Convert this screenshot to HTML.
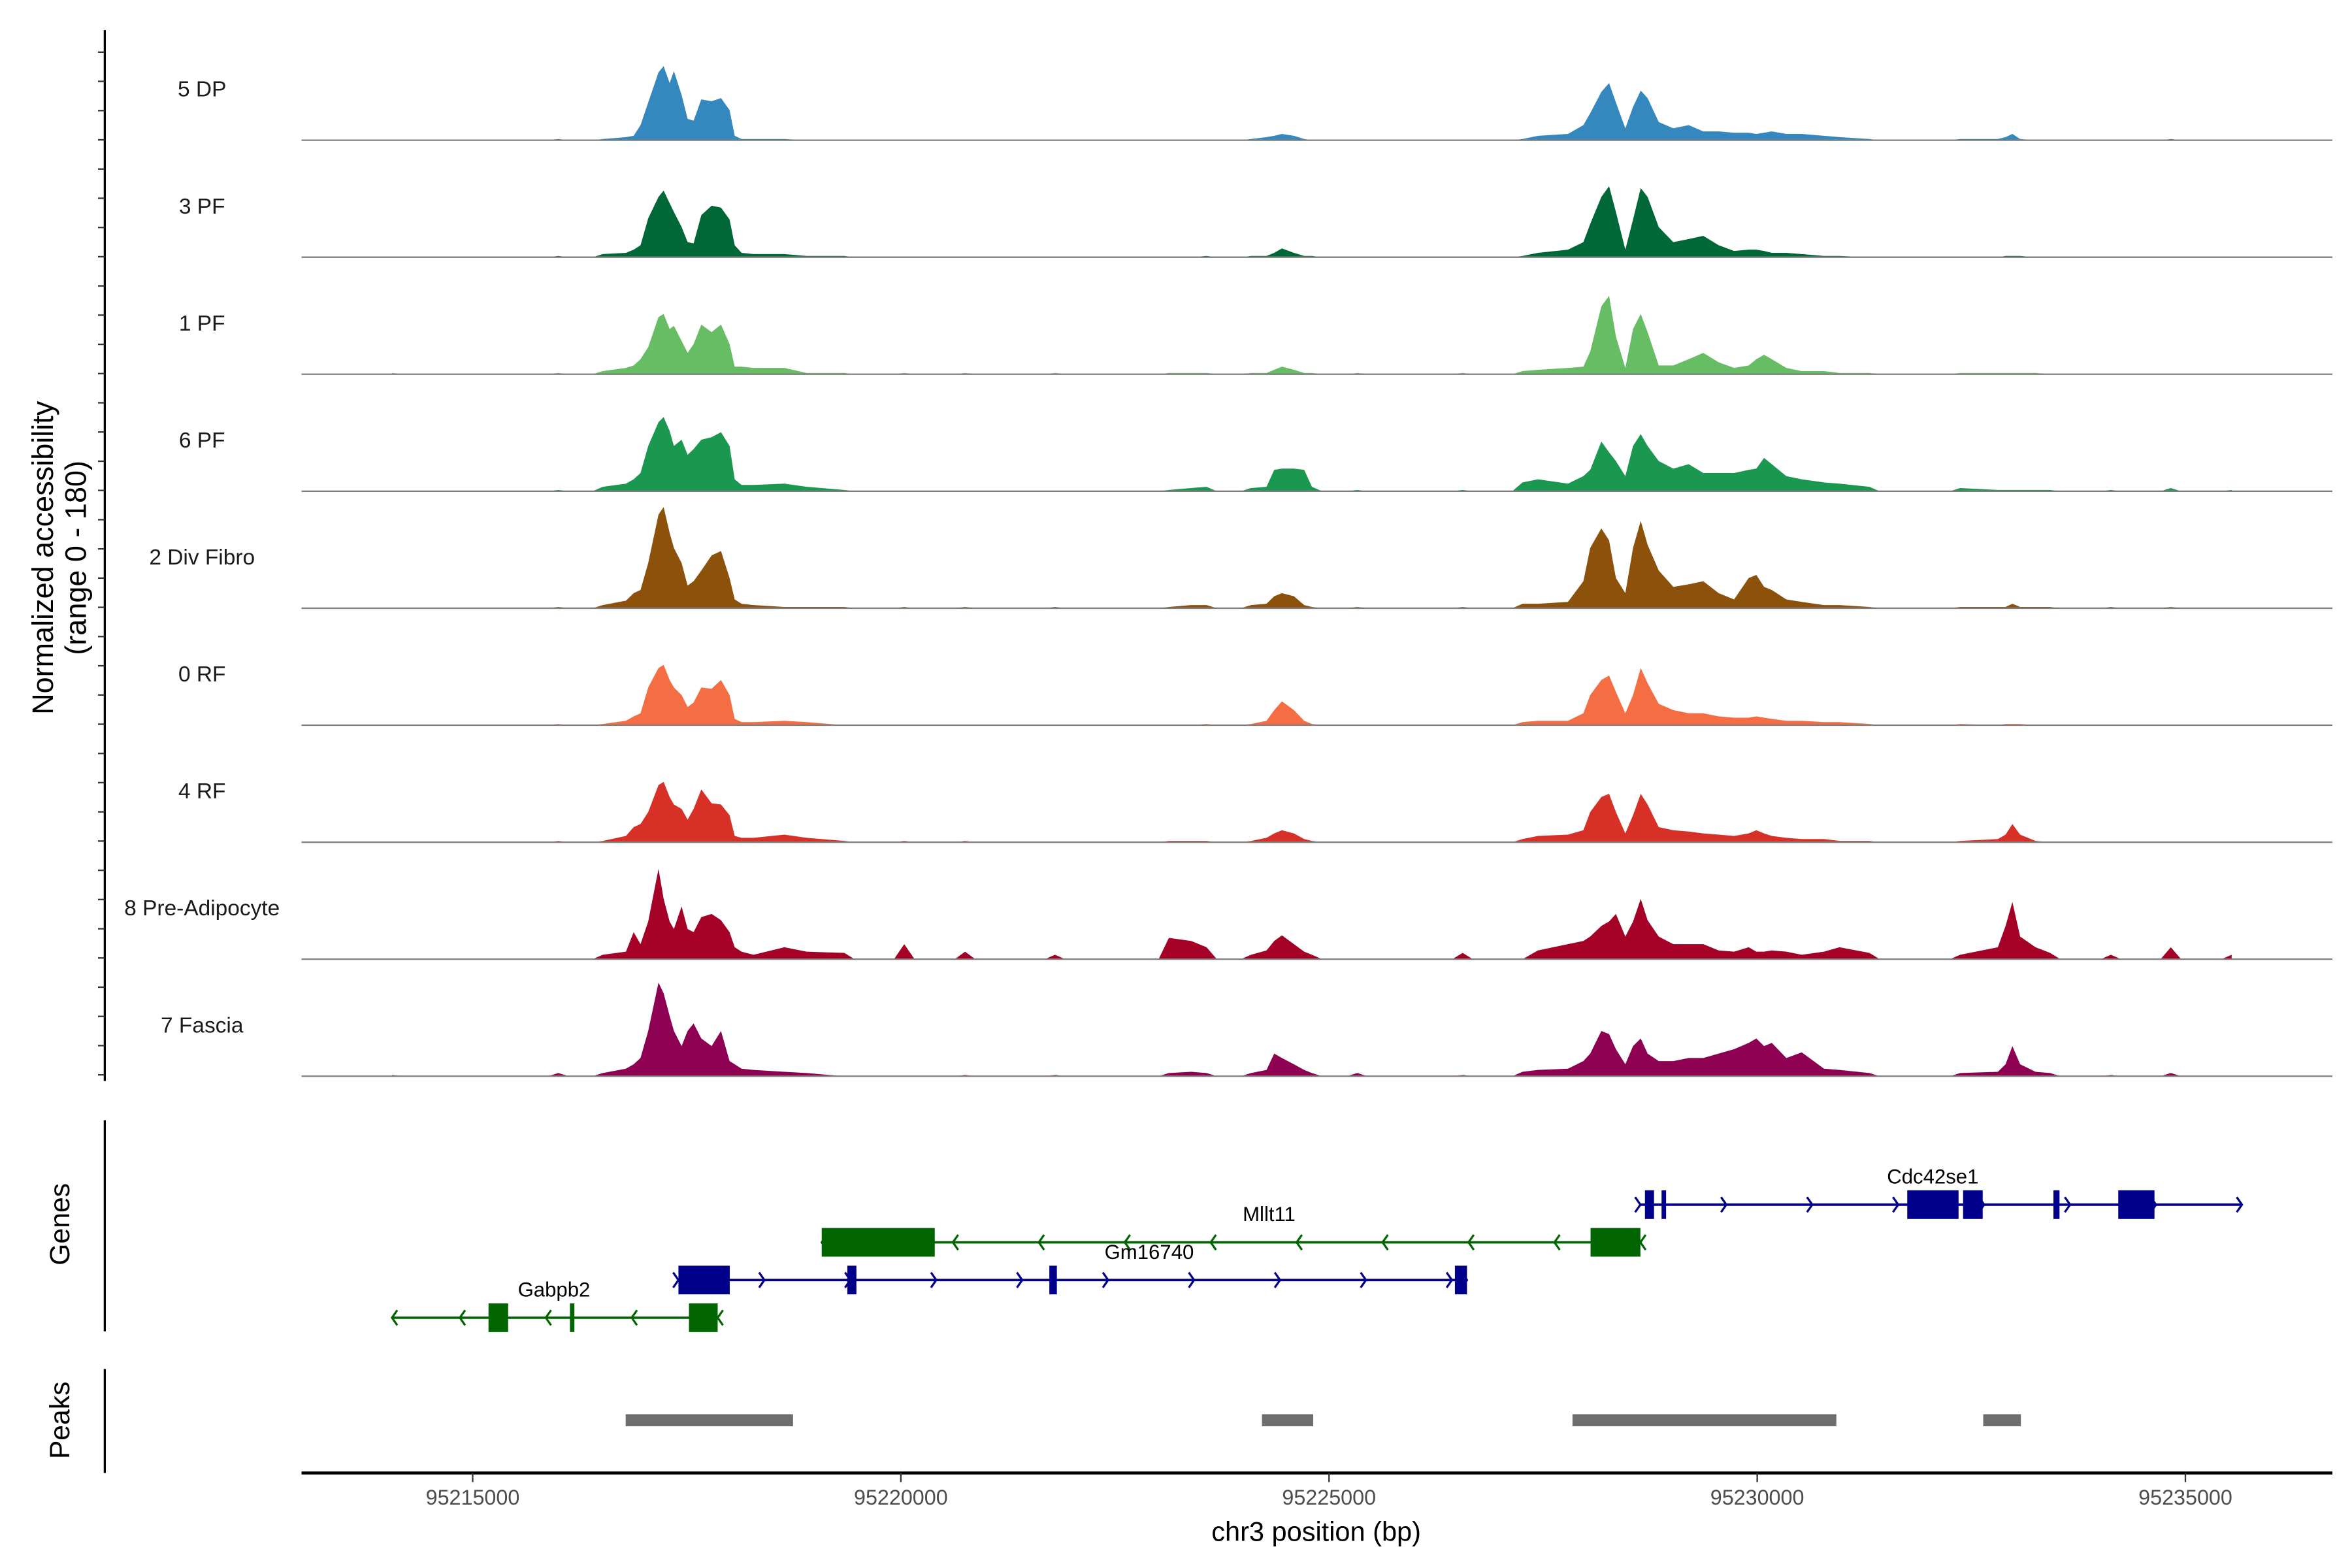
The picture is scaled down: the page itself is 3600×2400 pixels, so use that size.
<!DOCTYPE html>
<html><head><meta charset="utf-8"><title>Coverage plot</title>
<style>html,body{margin:0;padding:0;background:#fff;}svg{display:block;}text{font-family:"Liberation Sans",sans-serif;}</style>
</head><body>
<svg id="chart" xmlns="http://www.w3.org/2000/svg" width="3600" height="2400" viewBox="0 0 1560 1040">
<g id="tracks"></g>
<g id="genes"></g>
<g id="peaks"></g>
<g id="axes"></g>
</svg>
<script>
const NS="http://www.w3.org/2000/svg";
const positions=[95214060,95216000,95216520,95216790,95216880,95216960,95217050,95217170,95217230,95217300,95217350,95217440,95217510,95217580,95217670,95217790,95217900,95218000,95218060,95218140,95218280,95218640,95218900,95219340,95220040,95220750,95221800,95223130,95223390,95223570,95224090,95224270,95224360,95224450,95224590,95224710,95224800,95225330,95226560,95227260,95227440,95227790,95227970,95228050,95228180,95228270,95228350,95228460,95228550,95228640,95228720,95228850,95229020,95229200,95229370,95229550,95229730,95229900,95229990,95230080,95230170,95230340,95230520,95230780,95230960,95231310,95232370,95232810,95232900,95232980,95233070,95233250,95233420,95234130,95234830,95235540];
const trackNames=["5 DP","3 PF","1 PF","6 PF","2 Div Fibro","0 RF","4 RF","8 Pre-Adipocyte","7 Fascia"];
const trackColors=["#3588BE","#006837","#66BD63","#1A9850","#8C510A","#F46D43","#D73027","#A50026","#8E0152"];
const valsDP=[0,2,2,5,7,24,60,108,118,91,110,72,34,31,65,62,67,48,7,2,2,2,0,0,0,0,0,0,0,0,2,5,7,10,7,2,0,0,0,2,7,10,24,43,77,91,60,19,53,79,67,29,19,24,14,14,12,12,10,12,14,10,10,7,5,2,2,2,5,10,2,0,0,0,2,0];
const vals3PF=[0,2,5,7,12,19,62,96,106,86,72,48,24,22,67,82,79,60,19,7,5,5,2,2,0,0,0,0,0,2,2,2,7,14,7,2,2,0,0,2,7,12,24,53,96,113,72,12,60,110,96,48,24,29,34,19,10,12,12,10,7,7,5,2,2,0,0,0,2,2,2,0,0,0,0,0];
const vals1PF=[2,2,5,10,14,24,43,91,96,72,77,53,34,48,79,67,79,48,12,12,10,10,2,2,2,2,2,2,2,2,2,2,7,12,7,2,2,2,2,5,7,10,12,36,108,125,60,10,72,96,67,14,14,24,34,19,10,14,24,31,24,10,5,5,2,2,2,2,2,2,2,2,0,0,0,0];
const vals6PF=[0,2,7,12,19,29,72,110,118,96,72,82,58,67,82,86,94,72,19,10,10,12,7,2,0,0,0,2,5,7,5,7,34,36,36,34,7,2,2,14,19,12,24,34,79,62,48,24,72,91,72,48,36,43,29,29,29,34,36,53,43,24,19,14,12,7,5,2,2,2,2,2,2,2,5,2];
const vals2DF=[0,2,5,12,24,29,72,149,161,120,96,72,36,43,60,84,91,48,14,7,5,2,2,2,2,2,2,2,5,5,5,7,19,24,19,5,2,2,2,7,7,10,43,96,127,108,48,24,96,139,101,60,34,38,43,24,14,48,53,34,29,14,10,5,5,2,2,2,2,7,2,2,2,2,2,0];
const vals0RF=[0,2,2,7,14,19,60,91,96,72,60,48,29,36,60,58,72,48,10,5,5,7,5,0,0,0,0,0,0,2,2,7,24,38,24,7,2,0,0,5,7,7,19,48,72,79,53,19,48,91,67,34,24,19,19,14,12,12,14,12,10,7,7,5,5,2,2,0,2,2,2,0,0,0,0,0];
const vals4RF=[0,2,2,10,24,29,48,91,96,72,60,53,36,53,84,62,60,43,10,7,7,12,7,2,2,2,0,2,2,2,2,7,14,19,14,5,2,0,0,5,10,12,19,48,72,77,48,14,43,77,60,24,19,17,14,12,10,14,19,14,10,7,5,5,2,2,2,5,12,29,12,2,0,0,0,0];
const valsPA=[0,0,7,12,43,24,60,144,96,60,48,84,48,43,67,72,62,43,19,12,7,19,12,10,24,12,7,34,29,19,7,14,29,38,24,12,7,0,10,0,14,24,29,36,53,60,72,36,60,96,62,36,24,24,24,14,12,19,12,12,14,12,7,12,19,10,7,19,53,91,36,19,10,7,19,7];
const valsFas=[2,5,5,12,19,29,72,149,132,96,72,48,72,84,60,48,72,24,19,12,10,7,5,0,0,2,2,5,7,5,5,10,36,29,19,10,5,5,2,7,10,12,24,36,72,67,43,19,48,60,36,24,24,29,29,36,43,53,60,48,53,29,38,12,10,5,5,7,19,48,19,7,5,2,5,0];
const trackValues=[valsDP,vals3PF,vals1PF,vals6PF,vals2DF,vals0RF,vals4RF,valsPA,valsFas];
const xTicks=[95215000,95220000,95225000,95230000,95235000];
const geneNames=["Cdc42se1","Mllt11","Gm16740","Gabpb2"];
const geneStrand=[1,-1,1,-1];
const geneStart=[95228636,95219076,95217403,95214058];
const geneEnd=[95235660,95228636,95226611,95217861];
const geneExons=[[[95228689,95228795],[95228883,95228936],[95231752,95232351],[95232404,95232633],[95233459,95233530],[95234216,95234639]],[[95219076,95220396],[95228054,95228636]],[[95217403,95218002],[95219375,95219481],[95221734,95221822],[95226470,95226611]],[[95215185,95215414],[95216136,95216188],[95217526,95217861]]];
const peakStart=[95216787,95224217,95227843,95232639];
const peakEnd=[95218741,95224815,95230924,95233079];

const X0=200,X1=1547;
function xs(bp){return 313.5+(bp-95215000)*284/5000;}
const YMAX=180,TH=75;
function ys(v,base){return base-v/YMAX*TH;}
function mk(tag,attrs,parent,txt){const e=document.createElementNS(NS,tag);for(const k in attrs)e.setAttribute(k,attrs[k]);if(txt!==undefined)e.textContent=txt;parent.appendChild(e);return e;}

const tracks=document.getElementById('tracks');
const GAP=450,EDGE=120;
trackNames.forEach((nm,i)=>{
  const base=93+i*77.6;
  const g=mk('g',{},tracks);
  
  
  const vals=trackValues[i];
  let d='M'+xs(positions[0]).toFixed(2)+','+base;
  positions.forEach((p,j)=>{
    if(j>0&&p-positions[j-1]>GAP){
      d+=' L'+xs(positions[j-1]+EDGE).toFixed(2)+','+base+' L'+xs(p-EDGE).toFixed(2)+','+base;
    }
    d+=' L'+xs(p).toFixed(2)+','+ys(vals[j],base).toFixed(2);
  });
  d+=' L'+xs(positions[positions.length-1]).toFixed(2)+','+base+' Z';
  const a=mk('path',{d:d,fill:trackColors[i],stroke:'none'},g);
  
  
  const bl=mk('line',{x1:X0,x2:X1,y1:base,y2:base,stroke:'#7f7f7f','stroke-width':1},g);
  
  
  const t=mk('text',{x:134,y:base-29,'text-anchor':'middle','font-size':14.5,fill:'#1a1a1a'},g,nm);
  
  
});

const axes=document.getElementById('axes');
let e=mk('line',{x1:69.5,x2:69.5,y1:20,y2:717,stroke:'#000','stroke-width':1.4},axes);

for(let k=0;k<36;k++){const y=34.6+k*19.38;const tk=mk('line',{x1:65,x2:69.5,y1:y,y2:y,stroke:'#333','stroke-width':1},axes);

}
e=mk('text',{transform:'translate(35,370) rotate(-90)','text-anchor':'middle','font-size':19.5,fill:'#000'},axes,'Normalized accessibility');

e=mk('text',{transform:'translate(57,370) rotate(-90)','text-anchor':'middle','font-size':19.5,fill:'#000'},axes,'(range 0 - 180)');

e=mk('line',{x1:69.5,x2:69.5,y1:743,y2:883,stroke:'#000','stroke-width':1.4},axes);

e=mk('text',{transform:'translate(46,812) rotate(-90)','text-anchor':'middle','font-size':18.5,fill:'#000'},axes,'Genes');

e=mk('line',{x1:69.5,x2:69.5,y1:908,y2:977,stroke:'#000','stroke-width':1.4},axes);

e=mk('text',{transform:'translate(46,942) rotate(-90)','text-anchor':'middle','font-size':18.5,fill:'#000'},axes,'Peaks');

e=mk('line',{x1:X0,x2:X1,y1:977,y2:977,stroke:'#000','stroke-width':2},axes);

xTicks.forEach(v=>{const x=xs(v);
 const tk=mk('line',{x1:x,x2:x,y1:977,y2:983,stroke:'#333','stroke-width':1},axes);
 
 
 const tl=mk('text',{x:x,y:998,'text-anchor':'middle','font-size':14,fill:'#4d4d4d'},axes,String(v));
 
 
});
e=mk('text',{x:873,y:1022,'text-anchor':'middle','font-size':18,fill:'#000'},axes,'chr3 position (bp)');


const genes=document.getElementById('genes');
const rowY=[799,824,849,874],geneCol=["#00008B","#006400","#00008B","#006400"];
const labelX=[95232050,95224300,95222900,95215950];
geneNames.forEach((nm,i)=>{
  const y=rowY[i],c=geneCol[i];
  const g=mk('g',{},genes);
  
  
  const x1=xs(geneStart[i]),x2=xs(geneEnd[i]);
  const ln=mk('line',{x1:x1,x2:x2,y1:y,y2:y,stroke:c,'stroke-width':1.6},g);
  
  
  const step=57;
  const pts=[];
  if(geneStrand[i]>0){for(let x=x1;x<=x2+0.5;x+=step)pts.push(x);if(x2-pts[pts.length-1]>5)pts.push(x2);}
  else{for(let x=x2;x>=x1-0.5;x-=step)pts.push(x);if(pts[pts.length-1]-x1>5)pts.push(x1);}
  pts.forEach(x=>{const s=geneStrand[i];
    const ch=mk('polyline',{points:(x-3.5*s)+','+(y-5)+' '+x+','+y+' '+(x-3.5*s)+','+(y+5),fill:'none',stroke:c,'stroke-width':1.4},g);
    
    
  });
  geneExons[i].forEach(ex=>{
    const r=mk('rect',{x:xs(ex[0]),y:y-9.5,width:Math.max(2,xs(ex[1])-xs(ex[0])),height:19,fill:c},g);
    
    
  });
  const t=mk('text',{x:xs(labelX[i]),y:y-14,'text-anchor':'middle','font-size':13.5,fill:'#000'},g,nm);
  
  
});

const peaks=document.getElementById('peaks');
peakStart.forEach((s,i)=>{
  const r=mk('rect',{x:xs(s),y:938,width:xs(peakEnd[i])-xs(s),height:8,fill:'#6e6e6e'},peaks);
  
  
});
</script>
</body></html>
